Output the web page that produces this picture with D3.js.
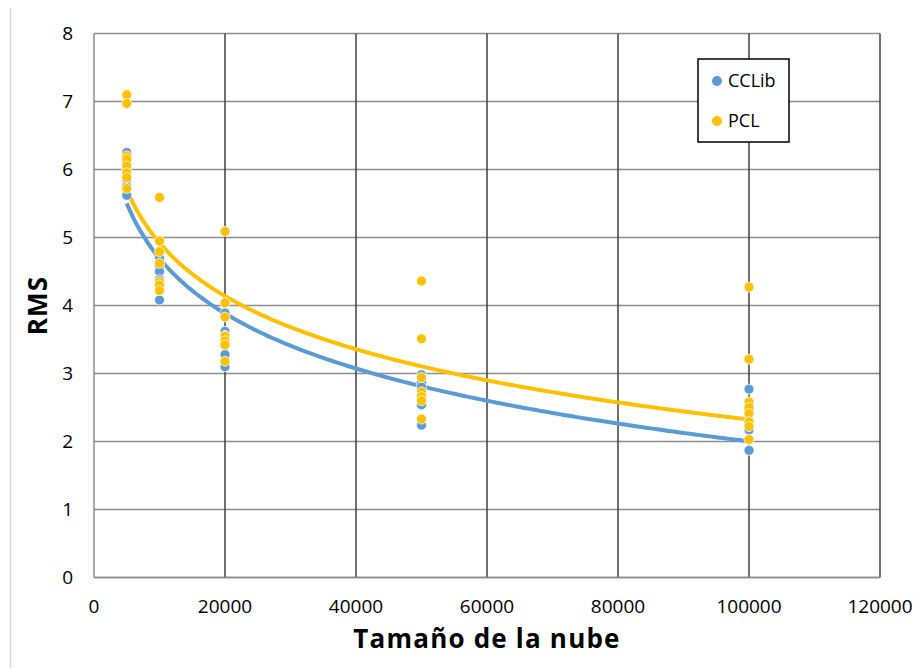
<!DOCTYPE html>
<html>
<head>
<meta charset="utf-8">
<script src="https://cdn.jsdelivr.net/npm/d3@7"></script>
<style>
  body { margin: 0; background: #fff; }
  svg { display: block; font-family: "Open Sans", sans-serif; }
</style>
</head>
<body>
<svg id="chart" width="919" height="668"></svg>
<script>
// cloud sizes tested
const sizes = [5000, 10000, 20000, 50000, 100000];

// RMS values per size
const cclibRms = [
    [6.25, 6.1, 6.0, 5.85, 5.75, 5.62],
    [4.7, 4.58, 4.5, 4.38, 4.3, 4.08],
    [3.89, 3.62, 3.56, 3.45, 3.28, 3.1],
    [2.98, 2.87, 2.8, 2.67, 2.54, 2.24],
    [2.77, 2.55, 2.45, 2.3, 2.17, 1.87]
];
const pclRms = [
    [7.1, 6.97, 6.2, 6.15, 6.05, 5.95, 5.88, 5.72],
    [5.59, 4.95, 4.79, 4.62, 4.35, 4.3, 4.22],
    [5.09, 4.04, 3.83, 3.55, 3.48, 3.42, 3.18],
    [4.36, 3.51, 2.94, 2.73, 2.66, 2.6, 2.33],
    [4.27, 3.21, 2.58, 2.5, 2.41, 2.29, 2.22, 2.03]
];

// logarithmic trendlines y = a + b*ln(x)
const cclibTrend = [15.45, -1.168];
const pclTrend = [15.31, -1.128];

const xTicks = [0, 20000, 40000, 60000, 80000, 100000, 120000];
const yTicks = [0, 1, 2, 3, 4, 5, 6, 7, 8];

const svg = d3.select("#chart");

const x = d3.scaleLinear().domain([0, 120000]).range([94, 880]);
const y = d3.scaleLinear().domain([0, 8]).range([577.5, 33.5]);

// light frame line on the left
svg.append("line")
    .attr("x1", 10.5).attr("x2", 10.5)
    .attr("y1", 8).attr("y2", 668)
    .attr("stroke", "#d9d9d9").attr("stroke-width", 1.5);

// horizontal grid
svg.append("g")
    .selectAll("line")
    .data(yTicks)
    .enter()
    .append("line")
    .attr("x1", x(0)).attr("x2", x(120000))
    .attr("y1", d => y(d)).attr("y2", d => y(d))
    .attr("stroke", "#8c8c8c").attr("stroke-width", 1.5);

// vertical grid (darker)
svg.append("g")
    .selectAll("line")
    .data(xTicks.slice(1))
    .enter()
    .append("line")
    .attr("x1", d => x(d)).attr("x2", d => x(d))
    .attr("y1", y(8)).attr("y2", y(0))
    .attr("stroke", "#404040").attr("stroke-width", 1.5);

// left axis line
svg.append("line")
    .attr("x1", x(0)).attr("x2", x(0))
    .attr("y1", y(8)).attr("y2", y(0))
    .attr("stroke", "#8c8c8c").attr("stroke-width", 1.5);

// bottom axis line on top of vertical grid
svg.append("line")
    .attr("x1", x(0)).attr("x2", x(120000))
    .attr("y1", y(0)).attr("y2", y(0))
    .attr("stroke", "#8c8c8c").attr("stroke-width", 1.5);

// tick labels
svg.append("g")
    .selectAll("text")
    .data(yTicks)
    .enter()
    .append("text")
    .attr("x", 73)
    .attr("y", d => y(d))
    .attr("dy", "0.35em")
    .attr("text-anchor", "end")
    .attr("font-size", 19)
    .attr("fill", "#000")
    .text(d => d);

svg.append("g")
    .selectAll("text")
    .data(xTicks)
    .enter()
    .append("text")
    .attr("x", d => x(d))
    .attr("y", 606)
    .attr("dy", "0.35em")
    .attr("text-anchor", "middle")
    .attr("font-size", 19)
    .attr("fill", "#000")
    .text(d => d);

// axis titles
svg.append("text")
    .attr("x", x(60000))
    .attr("y", 648)
    .attr("text-anchor", "middle")
    .attr("font-size", 26)
    .attr("letter-spacing", 1.2)
    .attr("font-weight", "bold")
    .text("Tamaño de la nube");

svg.append("text")
    .attr("transform", `translate(38,${y(4)}) rotate(-90)`)
    .attr("text-anchor", "middle")
    .attr("dy", "0.35em")
    .attr("font-size", 26)
    .attr("letter-spacing", 1.2)
    .attr("font-weight", "bold")
    .text("RMS");

// trendlines
const curve = d3.range(5000, 100001, 500);
const line = coef => d3.line()
    .x(d => x(d))
    .y(d => y(coef[0] + coef[1] * Math.log(d)));

svg.append("path")
    .datum(curve)
    .attr("d", line(cclibTrend))
    .attr("fill", "none")
    .attr("stroke", "#5b9bd5")
    .attr("stroke-width", 4);

svg.append("path")
    .datum(curve)
    .attr("d", line(pclTrend))
    .attr("fill", "none")
    .attr("stroke", "#ffc000")
    .attr("stroke-width", 4);

// scatter points
function drawPoints(values, color) {
    const pts = [];
    sizes.forEach((s, i) => values[i].forEach(v => pts.push([s, v])));
    svg.append("g")
        .selectAll("circle")
        .data(pts)
        .enter()
        .append("circle")
        .attr("cx", d => x(d[0]))
        .attr("cy", d => y(d[1]))
        .attr("r", 5)
        .attr("fill", color)
        .attr("stroke", "#fff")
        .attr("stroke-width", 0.75);
}
drawPoints(cclibRms, "#5b9bd5");
drawPoints(pclRms, "#ffc000");

// legend
const legend = svg.append("g");
legend.append("rect")
    .attr("x", 698).attr("y", 59)
    .attr("width", 91).attr("height", 83)
    .attr("fill", "#fff")
    .attr("stroke", "#000")
    .attr("stroke-width", 1.5);

const legendItems = [["CCLib", "#5b9bd5"], ["PCL", "#ffc000"]];
legendItems.forEach((item, i) => {
    const ly = 81 + i * 40;
    legend.append("circle")
        .attr("cx", 717).attr("cy", ly)
        .attr("r", 5)
        .attr("fill", item[1]);
    legend.append("text")
        .attr("x", 728).attr("y", ly)
        .attr("dy", "0.35em")
        .attr("font-size", 18)
        .text(item[0]);
});
</script>
</body>
</html>
